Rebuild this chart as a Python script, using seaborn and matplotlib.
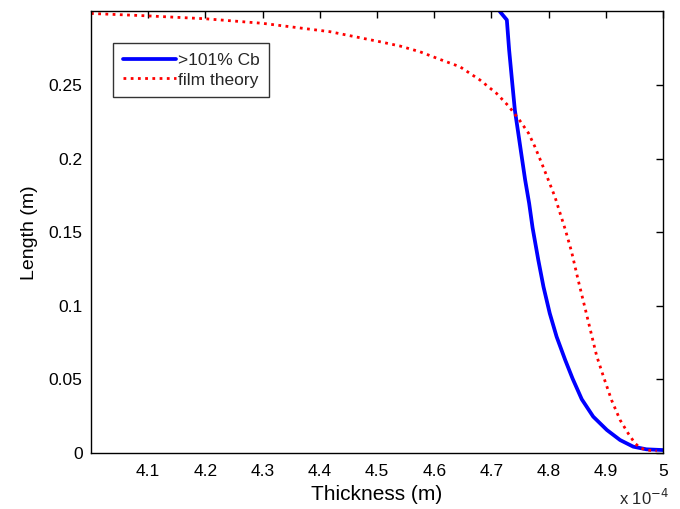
import matplotlib
matplotlib.use("Agg")
import matplotlib.pyplot as plt
import seaborn as sns
import pandas as pd

# Data (x in units of 1e-4 m)
blue_x = [4.712, 4.715, 4.727, 4.731, 4.7365, 4.741, 4.747, 4.753, 4.759, 4.766,
          4.772, 4.782, 4.791, 4.802, 4.814, 4.829, 4.842, 4.858, 4.878, 4.902,
          4.925, 4.948, 4.971, 5.000]
blue_y = [0.3020, 0.2998, 0.2942, 0.2738, 0.2512, 0.2330, 0.2172, 0.2013, 0.1855, 0.1696,
          0.1530, 0.1311, 0.1130, 0.0949, 0.0790, 0.0632, 0.0505, 0.0365, 0.0247, 0.0156,
          0.0088, 0.0043, 0.0025, 0.0020]

red_x = [4.000, 4.097, 4.200, 4.300, 4.418, 4.505, 4.540, 4.575, 4.610, 4.645,
         4.680, 4.709, 4.730, 4.749, 4.765, 4.776, 4.788, 4.7995, 4.811, 4.820,
         4.829, 4.840, 4.852, 4.864, 4.874, 4.884, 4.896, 4.910, 4.925, 4.939,
         4.951, 4.960, 4.971, 4.989]
red_y = [0.2986, 0.2970, 0.2950, 0.2919, 0.2862, 0.2794, 0.2765, 0.2726, 0.2674, 0.2624,
         0.2534, 0.2443, 0.2357, 0.2262, 0.2172, 0.2081, 0.1968, 0.1855, 0.1741, 0.1630,
         0.1520, 0.1370, 0.1170, 0.0980, 0.0820, 0.0660, 0.0518, 0.0360, 0.0224, 0.0134,
         0.0066, 0.0035, 0.0020, 0.0014]

x_ticks = [4.1, 4.2, 4.3, 4.4, 4.5, 4.6, 4.7, 4.8, 4.9, 5.0]
x_labels = ["4.1", "4.2", "4.3", "4.4", "4.5", "4.6", "4.7", "4.8", "4.9", "5"]
y_ticks = [0, 0.05, 0.1, 0.15, 0.2, 0.25]
y_labels = ["0", "0.05", "0.1", "0.15", "0.2", "0.25"]

sns.set_theme(style="white")
plt.rcParams['font.family'] = ['Liberation Sans', 'DejaVu Sans']

fig = plt.figure(figsize=(6.8, 5.09), dpi=100)
ax = fig.add_axes([91/680, 1 - 453/509, (663-91)/680, (453-11.4)/509])

df_b = pd.DataFrame({"x": blue_x, "y": blue_y})
df_r = pd.DataFrame({"x": red_x, "y": red_y})
sns.lineplot(data=df_b, x="x", y="y", ax=ax, sort=False, estimator=None,
             color="#0000ff", linewidth=2.7, label=">101% Cb")
sns.lineplot(data=df_r, x="x", y="y", ax=ax, sort=False, estimator=None,
             color="#ff0000", linewidth=2.0, linestyle=(0, (1, 1.6)), label="film theory")

ax.set_xlim(4.0, 5.0)
ax.set_ylim(0, 0.3)
ax.set_xticks(x_ticks)
ax.set_xticklabels(x_labels)
ax.set_yticks(y_ticks)
ax.set_yticklabels(y_labels)
ax.tick_params(direction="in", length=5, width=1, top=True, right=True,
               labelsize=12.5, colors="black", pad=6)
ax.tick_params(axis="x", pad=8)
for s in ax.spines.values():
    s.set_color("black")
    s.set_linewidth(1.0)
ax.set_xlabel("Thickness (m)", fontsize=15, color="black", labelpad=4)
ax.set_ylabel("Length (m)", fontsize=14, color="black", labelpad=8)

leg = ax.legend(loc="upper left", bbox_to_anchor=(0.0385, 0.9276), borderaxespad=0,
                fontsize=12.5, frameon=True, fancybox=False, edgecolor="black",
                handlelength=3.05, borderpad=0.55, labelspacing=0.25, handletextpad=0.15)
leg.get_frame().set_linewidth(1.0)

fig.text(619/680, 1 - 498/509, r"x 10$^{-4}$", fontsize=12, ha="left", va="center")

fig.savefig("out.png", dpi=100)
